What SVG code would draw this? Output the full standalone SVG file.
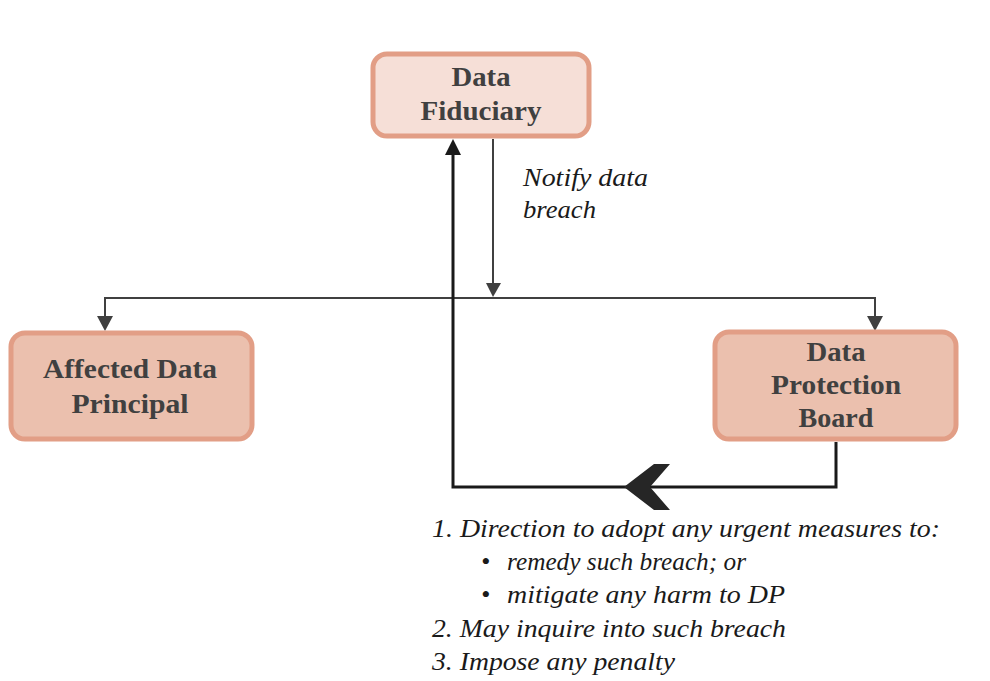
<svg xmlns="http://www.w3.org/2000/svg" width="990" height="681" viewBox="0 0 990 681">
<style>
.box{stroke:#E29E86;stroke-width:5}
.t{font-family:"Liberation Serif","DejaVu Serif",serif;font-weight:bold;font-size:27px;fill:#404040;text-anchor:middle}
.it{font-family:"Liberation Serif","DejaVu Serif",serif;font-style:italic;font-size:26px;fill:#1a1a1a}
.c{fill:none;stroke:#404040;stroke-width:2}
.ah{fill:#404040}
</style>
<rect width="990" height="681" fill="#ffffff"/>
<g id="connectors">
<line x1="493" y1="139" x2="493" y2="285" class="c" stroke-width="3"/>
<polygon points="486,283 501,283 493,297" class="ah"/>
<path d="M105,318 L105,298 L875,298 L875,318" class="c"/>
<polygon points="97,316 113,316 105,331" class="ah"/>
<polygon points="867,316 883,316 875,331" class="ah"/>
<path d="M836,442 L836,487 L453,487 L453,152" fill="none" stroke="#1a1a1a" stroke-width="3"/>
<polygon points="445,155 461,155 453,139" fill="#1a1a1a"/>
<polygon points="624,487 654,464 670,464 650,487 670,510 654,510" fill="#262626"/>
</g>
<g id="data-fiduciary">
<rect x="373" y="54" width="216" height="82" rx="14" class="box" fill="#F6DFD7"/>
<text x="481" y="86" class="t" textLength="59" lengthAdjust="spacingAndGlyphs">Data</text>
<text x="481" y="120" class="t" textLength="121" lengthAdjust="spacingAndGlyphs">Fiduciary</text>
</g>
<g id="affected-data-principal">
<rect x="11" y="333" width="241" height="106" rx="14" class="box" fill="#EBC0AE"/>
<text x="130" y="378" class="t" textLength="174" lengthAdjust="spacingAndGlyphs">Affected Data</text>
<text x="130" y="413" class="t" textLength="117" lengthAdjust="spacingAndGlyphs">Principal</text>
</g>
<g id="data-protection-board">
<rect x="715" y="332" width="241" height="107" rx="14" class="box" fill="#EBC0AE"/>
<text x="836" y="361" class="t" textLength="59" lengthAdjust="spacingAndGlyphs">Data</text>
<text x="836" y="394" class="t" textLength="130" lengthAdjust="spacingAndGlyphs">Protection</text>
<text x="836" y="427" class="t" textLength="75" lengthAdjust="spacingAndGlyphs">Board</text>
</g>
<g id="labels">
<text x="523" y="186" class="it" textLength="125" lengthAdjust="spacingAndGlyphs">Notify data</text>
<text x="523" y="218" class="it" textLength="73" lengthAdjust="spacingAndGlyphs">breach</text>
<text x="432" y="537" class="it" textLength="508" lengthAdjust="spacingAndGlyphs">1. Direction to adopt any urgent measures to:</text>
<text x="481" y="570" class="it">•</text>
<text x="507" y="570" class="it" textLength="239" lengthAdjust="spacingAndGlyphs">remedy such breach; or</text>
<text x="481" y="603" class="it">•</text>
<text x="507" y="603" class="it" textLength="278" lengthAdjust="spacingAndGlyphs">mitigate any harm to DP</text>
<text x="432" y="637" class="it" textLength="354" lengthAdjust="spacingAndGlyphs">2. May inquire into such breach</text>
<text x="432" y="670" class="it" textLength="243" lengthAdjust="spacingAndGlyphs">3. Impose any penalty</text>
</g>
</svg>
